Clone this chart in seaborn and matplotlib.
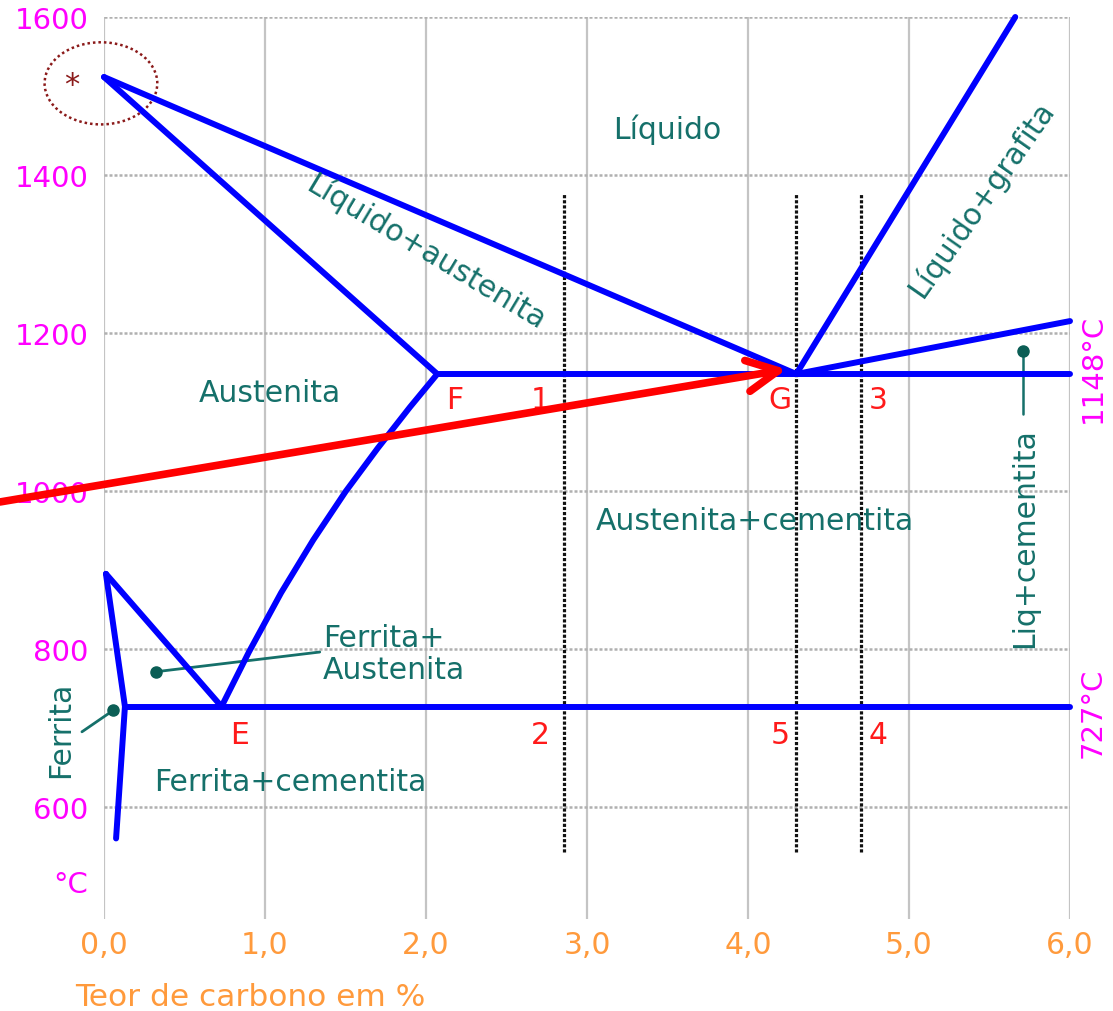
import matplotlib
matplotlib.use("Agg")
import matplotlib.pyplot as plt
from matplotlib.patches import Ellipse
import seaborn as sns

# phase boundary lines (carbon %, temperature C)
liquidus_x = [0.0, 4.30]
liquidus_y = [1524, 1148]
solidus_x = [0.0, 2.07]
solidus_y = [1524, 1148]
eutectic_x = [2.07, 6.0]
eutectic_y = [1148, 1148]
graphite_x = [4.30, 5.66]
graphite_y = [1148, 1600]
cementite_x = [4.30, 6.0]
cementite_y = [1148, 1215]
acm_x = [2.07, 1.9, 1.7, 1.5, 1.3, 1.1, 0.9, 0.73]
acm_y = [1148, 1106, 1054, 999, 938, 871, 796, 727]
eutectoid_x = [0.13, 6.0]
eutectoid_y = [727, 727]
a3_x = [0.012, 0.73]
a3_y = [895, 727]
ferrite_x = [0.012, 0.13, 0.075]
ferrite_y = [895, 727, 560]

boundaries = [(liquidus_x, liquidus_y), (solidus_x, solidus_y), (eutectic_x, eutectic_y),
              (graphite_x, graphite_y), (cementite_x, cementite_y), (acm_x, acm_y),
              (eutectoid_x, eutectoid_y), (a3_x, a3_y), (ferrite_x, ferrite_y)]

# dotted composition lines
section_x = [2.86, 4.30, 4.70]
section_top = 1376
section_bottom = 543

x_ticks = [0, 1, 2, 3, 4, 5, 6]
x_labels = ["0,0", "1,0", "2,0", "3,0", "4,0", "5,0", "6,0"]
y_ticks = [600, 800, 1000, 1200, 1400, 1600]

# region names
regions = ["Líquido", "Líquido+austenita", "Líquido+grafita", "Austenita",
           "Austenita+cementita", "Ferrita+cementita"]
region_x = [3.50, 2.00, 5.45, 1.03, 4.04, 1.155]
region_y = [1458, 1303, 1370, 1125, 963, 632]
region_rot = [0, -31, 55, 0, 0, 0]

# red point labels
points = ["F", "1", "G", "3", "E", "2", "5", "4"]
points_x = [2.18, 2.71, 4.20, 4.81, 0.845, 2.71, 4.20, 4.81]
points_y = [1116, 1116, 1116, 1116, 692, 692, 692, 692]

# red arrow
arrow_start = (-0.646, 986)
arrow_end = (4.24, 1154)

teal = "#15706a"
magenta = "#ff00ff"
orange = "#ff9a3c"

sns.set_style("white")
plt.rcParams["font.family"] = ["DejaVu Sans"]

fig = plt.figure(figsize=(11.13, 10.12), dpi=100)
ax = fig.add_axes([104 / 1113, 1 - 920 / 1012, 966 / 1113, 902 / 1012])

for bx, by in boundaries:
    sns.lineplot(x=bx, y=by, sort=False, ax=ax, color="#0000ff", lw=4.3,
                 solid_capstyle="round", solid_joinstyle="round", clip_on=False, zorder=3)

for sx in section_x:
    ax.plot([sx, sx], [section_bottom, section_top], color="#111111", lw=2.3,
            ls=(0, (1, 0.6)), zorder=2)

ax.set_xlim(0, 6)
ax.set_ylim(458, 1600)
ax.set_xticks(x_ticks)
ax.set_xticklabels(x_labels)
ax.set_yticks(y_ticks)
ax.set_xlabel("")
ax.set_ylabel("")
for s in ax.spines.values():
    s.set_visible(False)
ax.xaxis.grid(True, color="#c4c4c4", lw=1.6, ls="-")
ax.yaxis.grid(True, color="#b0b0b0", lw=1.8, ls=(0, (1.2, 0.8)))
ax.set_axisbelow(True)
ax.tick_params(axis="y", length=0, pad=11, labelsize=21, labelcolor=magenta)
ax.tick_params(axis="x", length=0, pad=8, labelsize=21.5, labelcolor=orange)

ax.text(-0.1, 502, "°C", color=magenta, fontsize=21, ha="right", va="center")
ax.text(-0.18, 360, "Teor de carbono em %", color=orange, fontsize=22.5,
        ha="left", va="center", clip_on=False)

for name, tx, ty, rot in zip(regions, region_x, region_y, region_rot):
    ax.text(tx, ty, name, color=teal, fontsize=21.5, ha="center", va="center",
            rotation=rot, rotation_mode="anchor")

for name, tx, ty in zip(points, points_x, points_y):
    ax.text(tx, ty, name, color="#ff1a1a", fontsize=21.5, ha="center", va="center")

# pointers
ax.plot([0.32, 1.34], [771, 796], color=teal, lw=2)
ax.plot([0.32], [771], "o", color="#0b5e55", ms=8)
ax.text(1.36, 794, "Ferrita+\nAustenita", color=teal, fontsize=21.5, ha="left",
        va="center", linespacing=1.15)
ax.plot([0.056, -0.137], [722, 695], color=teal, lw=2, clip_on=False)
ax.plot([0.056], [722], "o", color="#0b5e55", ms=8, clip_on=False)
ax.text(-0.27, 699, "Ferrita", color=teal, fontsize=21.5, ha="center", va="center",
        rotation=90)
ax.plot([5.71, 5.71], [1177, 1097], color=teal, lw=1.8)
ax.plot([5.71], [1177], "o", color="#0b5e55", ms=8)
ax.text(5.72, 942, "Liq+cementita", color=teal, fontsize=21.5, ha="center",
        va="center", rotation=90)

ax.text(6.14, 1156, "1148°C", color=magenta, fontsize=21, ha="center", va="center",
        rotation=90, clip_on=False)
ax.text(6.14, 720, "727°C", color=magenta, fontsize=21, ha="center", va="center",
        rotation=90, clip_on=False)

# melting point marker
ax.add_patch(Ellipse((-0.019, 1516), 0.70, 104, fill=False, ec="#8b1a1a", lw=1.8,
                     ls=(0, (1, 1.2)), clip_on=False))
ax.text(-0.2, 1515, "*", color="#8b1a1a", fontsize=22, ha="center", va="center")

ax.annotate("", xy=arrow_end, xytext=arrow_start,
            arrowprops=dict(arrowstyle="->,head_length=0.9,head_width=0.45",
                            color="#ff0000", lw=5.5, mutation_scale=25,
                            shrinkA=0, shrinkB=0),
            annotation_clip=False, zorder=5)

fig.savefig("out.png", dpi=100)
